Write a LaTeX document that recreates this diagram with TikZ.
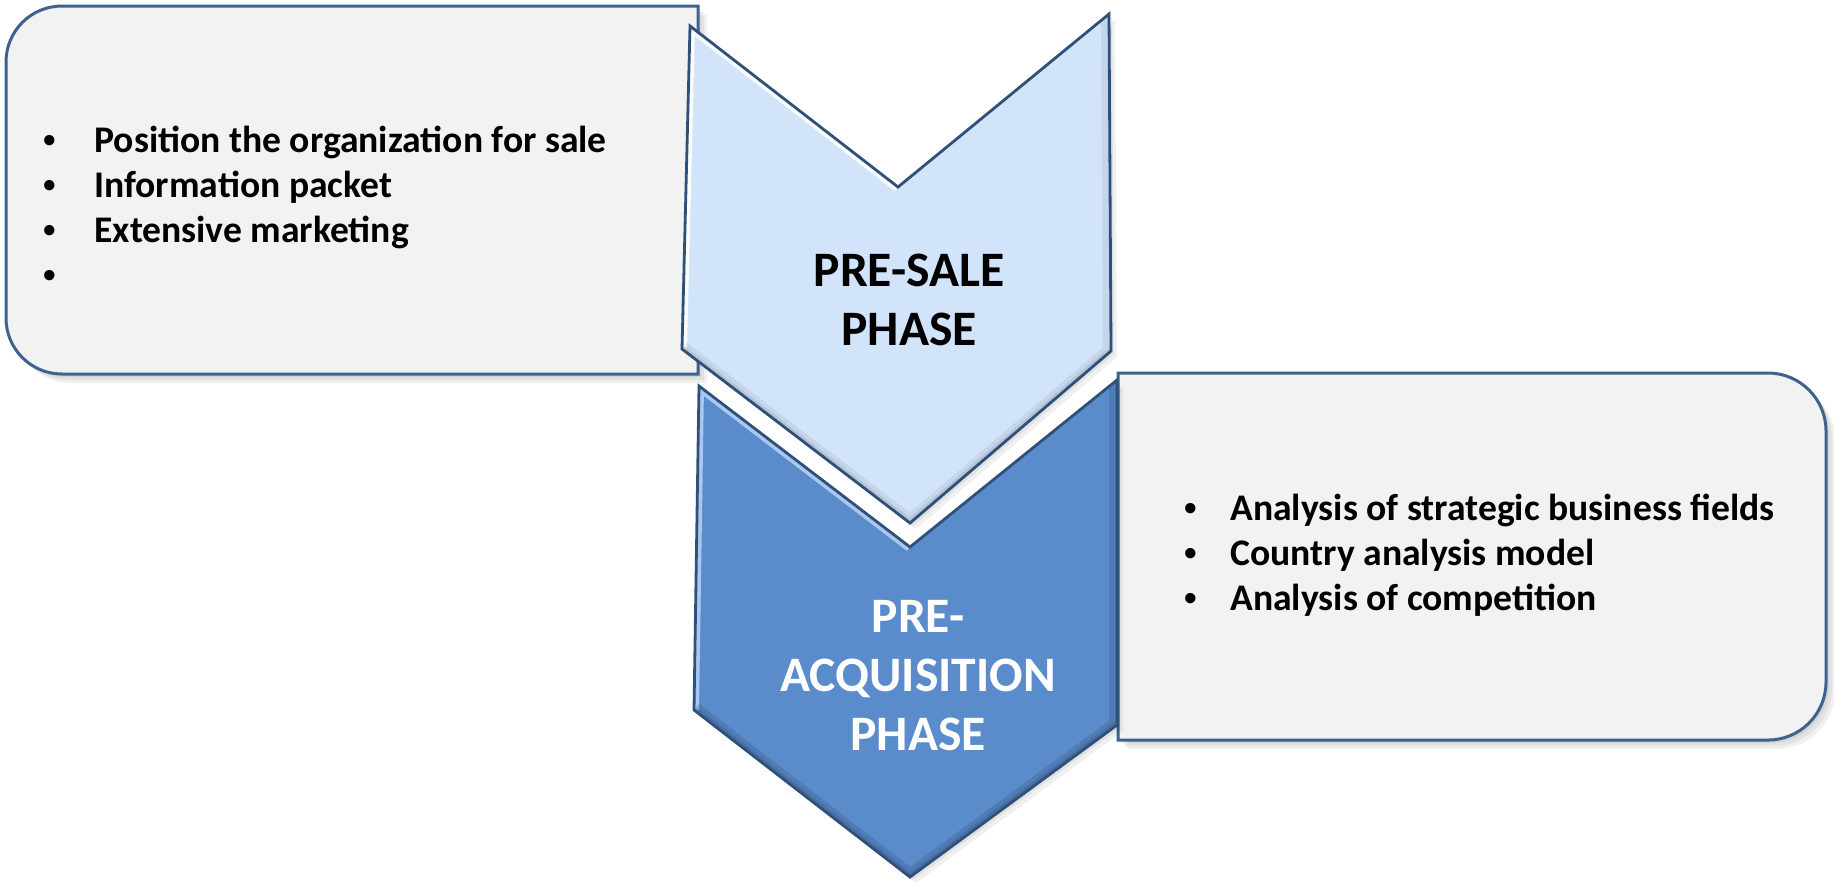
\documentclass[tikz,border=0pt]{standalone}
\usepackage{fontspec}
\setmainfont{Carlito}
\newfontfamily\bulletfont{Liberation Sans}
\definecolor{boxfill}{HTML}{F2F2F2}
\definecolor{boxline}{HTML}{3E6290}
\definecolor{chevlight}{HTML}{D2E4FA}
\definecolor{chevdark}{HTML}{5A8BCB}
\definecolor{chevline}{HTML}{2F5078}
\definecolor{hilite}{HTML}{A8C8F2}
\begin{document}
\begin{tikzpicture}[x=0.5pt,y=-0.5pt,
  boxstyle/.style={fill=boxfill, draw=boxline, line width=1.5pt},
  shadowstyle/.style={fill=black, opacity=0.06},
  chevstyle/.style={draw=chevline, line width=1.4pt, line join=miter},
  itemtext/.style={anchor=base west, inner sep=0pt, font=\fontsize{18.8}{22}\selectfont\bfseries},
  bulletmark/.style={anchor=base, inner sep=0pt, font=\bulletfont\fontsize{18}{22}\selectfont\bfseries},
  phasetext/.style={align=center, inner sep=0pt, font=\fontsize{24.8}{29.5}\selectfont\bfseries}]
\useasboundingbox (0,0) rectangle (1834,891);

% ---- box shadows
\foreach \s in {3,6,9}{
  \fill[shadowstyle, shift={(\s,\s)}] (698,6) -- (62,6) .. controls (31,6) and (6,31) .. (6,62) -- (6,318) .. controls (6,349) and (31,374) .. (62,374) -- (698,374) -- cycle;
  \fill[shadowstyle, shift={(\s,\s)}] (1118,373) -- (1768,373) .. controls (1800,373) and (1826,399) .. (1826,431) -- (1826,682) .. controls (1826,714) and (1800,740) .. (1768,740) -- (1118,740) -- cycle;
}
% ---- left box
\draw[boxstyle] (698,6) -- (62,6) .. controls (31,6) and (6,31) .. (6,62) -- (6,318) .. controls (6,349) and (31,374) .. (62,374) -- (698,374) -- cycle;
% ---- right box
\draw[boxstyle] (1118,373) -- (1768,373) .. controls (1800,373) and (1826,399) .. (1826,431) -- (1826,682) .. controls (1826,714) and (1800,740) .. (1768,740) -- (1118,740) -- cycle;

% ---- upper chevron
\foreach \s in {3,6}{
  \fill[shadowstyle, shift={(\s,\s)}] (690,26) -- (898,187) -- (1109,14) -- (1111,351) -- (910,523) -- (682,349) -- cycle;
}
\fill[chevlight] (690,26) -- (898,187) -- (1109,14) -- (1111,351) -- (910,523) -- (682,349) -- cycle;
\begin{scope}
  \clip (690,26) -- (898,187) -- (1109,14) -- (1111,351) -- (910,523) -- (682,349) -- cycle;
  \draw[white, line width=5pt, opacity=0.9] (682,349) -- (690,26) -- (898,187);
  \draw[black, line width=8pt, opacity=0.06] (682,349) -- (910,523) -- (1111,351) -- (1109,14);
  \draw[black, line width=4pt, opacity=0.08] (682,349) -- (910,523) -- (1111,351);
\end{scope}
\draw[chevstyle] (690,26) -- (898,187) -- (1109,14) -- (1111,351) -- (910,523) -- (682,349) -- cycle;

% ---- lower chevron
\foreach \s in {3,6}{
  \fill[shadowstyle, shift={(\s,\s)}] (699,386) -- (910,547) -- (1117,380) -- (1117,725) -- (910,877) -- (694,710) -- cycle;
}
\fill[chevdark] (699,386) -- (910,547) -- (1117,380) -- (1117,725) -- (910,877) -- (694,710) -- cycle;
\begin{scope}
  \clip (699,386) -- (910,547) -- (1117,380) -- (1117,725) -- (910,877) -- (694,710) -- cycle;
  \draw[hilite, line width=5pt] (694,710) -- (699,386) -- (910,547);
  \draw[black, line width=8pt, opacity=0.10] (694,710) -- (910,877) -- (1117,725) -- (1117,380);
  \draw[black, line width=4pt, opacity=0.10] (694,710) -- (910,877) -- (1117,725);
\end{scope}
\draw[chevstyle] (699,386) -- (910,547) -- (1117,380) -- (1117,725) -- (910,877) -- (694,710) -- cycle;

% ---- phase labels
\node[phasetext, text=black] (presale) at (909,300) {PRE-SALE\\PHASE};
\node[phasetext, text=white] (preacq) at (918,676) {PRE-\\ACQUISITION\\PHASE};

% ---- left list
\node[bulletmark] (lb1) at (50,152) {\textbullet};
\node[itemtext] (lt1) at (94,152) {Position the organization for sale};
\node[bulletmark] (lb2) at (50,197) {\textbullet};
\node[itemtext] (lt2) at (94,197) {Information packet};
\node[bulletmark] (lb3) at (50,242) {\textbullet};
\node[itemtext] (lt3) at (94,242) {Extensive marketing};
\node[bulletmark] (lb4) at (50,287) {\textbullet};

% ---- right list
\node[bulletmark] (rb1) at (1191,520) {\textbullet};
\node[itemtext] (rt1) at (1230,520) {Analysis of strategic business fields};
\node[bulletmark] (rb2) at (1191,565) {\textbullet};
\node[itemtext] (rt2) at (1230,565) {Country analysis model};
\node[bulletmark] (rb3) at (1191,610) {\textbullet};
\node[itemtext] (rt3) at (1230,610) {Analysis of competition};
\end{tikzpicture}
\end{document}
